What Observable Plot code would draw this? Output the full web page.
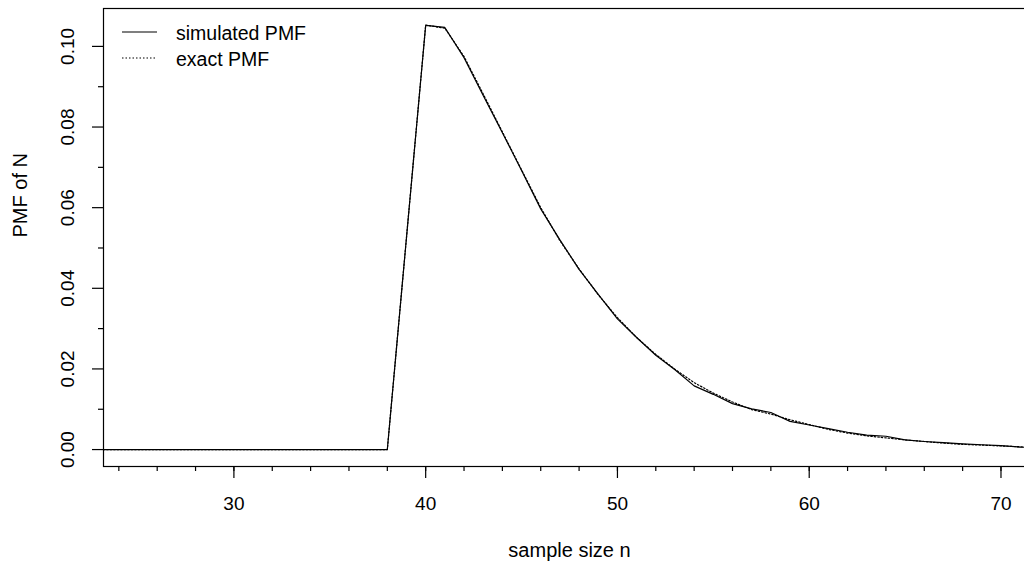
<!DOCTYPE html>
<html>
<head>
<meta charset="utf-8">
<script src="https://cdn.jsdelivr.net/npm/d3@7"></script>
<script src="https://cdn.jsdelivr.net/npm/@observablehq/plot@0.6"></script>
<style>
  html, body { margin: 0; padding: 0; background: #fff; }
  #chart { width: 1024px; height: 565px; overflow: hidden; }
</style>
</head>
<body>
<div id="chart"></div>
<script>
// sample size n
const nValues = [23,24,25,26,27,28,29,30,31,32,33,34,35,36,37,38,
  40,41,42,43,44,45,46,47,48,49,50,51,52,53,54,55,56,57,58,59,60,61,62,63,64,65,66,67,68,69,70,71,72];
// simulated PMF
const simulated = [0,0,0,0,0,0,0,0,0,0,0,0,0,0,0,0,
  0.1052,0.1047,0.0972,0.0878,0.0786,0.0692,0.0597,0.0520,0.0447,0.0385,0.0324,0.0278,0.0234,0.0198,0.0158,0.0137,
  0.0114,0.0101,0.0092,0.0070,0.0061,0.0052,0.0043,0.0036,0.0033,0.0024,0.0020,0.0017,0.0014,0.0012,0.0010,0.0006,0.0005];
// exact PMF
const exact = [0,0,0,0,0,0,0,0,0,0,0,0,0,0,0,0,
  0.1053,0.1045,0.0975,0.0882,0.0788,0.0694,0.0600,0.0518,0.0448,0.0384,0.0327,0.0278,0.0236,0.0199,0.0166,0.0140,
  0.0118,0.0099,0.0088,0.0074,0.0062,0.0050,0.0041,0.0034,0.0029,0.0024,0.0020,0.0016,0.0013,0.0011,0.0009,0.0007,0.0006];

const xMajorTicks = [30,40,50,60,70];
const xMinorTicks = d3.range(24, 72, 2);
const yMajorTicks = [0,0.02,0.04,0.06,0.08,0.10];
const yMinorTicks = [0.01,0.03,0.05,0.07,0.09];
const yTickLabels = ["0.00","0.02","0.04","0.06","0.08","0.10"];
const legendLabels = ["simulated PMF","exact PMF"];
const xTitle = "sample size n";
const yTitle = "PMF of N";

const simData = nValues.map((n, i) => ({n, p: simulated[i]}));
const exactData = nValues.map((n, i) => ({n, p: exact[i]}));
const yLabelData = yMajorTicks.map((v, i) => ({v, label: yTickLabels[i]}));

const FONT = "Liberation Sans, Arial, Helvetica, sans-serif";
const FS = 19;
const FT = 20;

const plot = Plot.plot({
  width: 1024,
  height: 565,
  marginLeft: 103,
  marginTop: 8,
  marginBottom: 99,
  marginRight: -11,
  style: {fontFamily: FONT, fontSize: FS + "px", color: "#000", background: "#fff", overflow: "hidden"},
  x: {domain: [23.2, 71.8]},
  y: {domain: [-0.0042, 0.1094]},
  marks: [
    Plot.line(exactData, {x: "n", y: "p", stroke: "#000", strokeWidth: 1.2, strokeDasharray: "1.5,2", clip: true}),
    Plot.line(simData, {x: "n", y: "p", stroke: "#000", strokeWidth: 1.2, clip: true}),
    Plot.frame({stroke: "#000", strokeWidth: 1.2}),
    Plot.axisX({ticks: xMajorTicks, tickSize: 12, stroke: "#000", strokeWidth: 1.2, tickFormat: () => "", label: null}),
    Plot.axisX({ticks: xMinorTicks, tickSize: 5, stroke: "#000", strokeWidth: 1.2, tickFormat: () => "", label: null}),
    Plot.axisY({ticks: yMajorTicks, tickSize: 11, stroke: "#000", strokeWidth: 1.2, tickFormat: () => "", label: null}),
    Plot.axisY({ticks: yMinorTicks, tickSize: 5, stroke: "#000", strokeWidth: 1.2, tickFormat: () => "", label: null}),
    Plot.text(xMajorTicks, {x: d => d, text: d => String(d), frameAnchor: "bottom", dy: 37, lineAnchor: "middle", fontSize: FS, fill: "#000"}),
    Plot.text(yLabelData, {y: "v", text: "label", frameAnchor: "left", dx: -35.5, rotate: -90, textAnchor: "middle", lineAnchor: "middle", fontSize: FS, fill: "#000"}),
    Plot.text([xTitle], {text: d => d, frameAnchor: "bottom", dy: 84, lineAnchor: "middle", fontSize: FT, fill: "#000"}),
    Plot.text([yTitle], {text: d => d, frameAnchor: "left", dx: -82.7, rotate: -90, lineAnchor: "middle", fontSize: FT, fill: "#000"})
  ]
});

document.getElementById("chart").appendChild(plot);

// legend (top-left inside plot)
const svg = d3.select(plot);
const lg = svg.append("g").attr("font-family", FONT).attr("font-size", 19.5).attr("text-anchor", "start");
const dashes = [null, "1.5,2"];
const ys = [32, 58];
legendLabels.forEach((lab, i) => {
  lg.append("line").attr("x1", 122).attr("x2", 157).attr("y1", ys[i]).attr("y2", ys[i])
    .attr("stroke", "#000").attr("stroke-width", 1.2).attr("stroke-dasharray", dashes[i]);
  lg.append("text").attr("x", 176).attr("y", ys[i] + 1.5).attr("dy", "0.32em")
    .attr("text-anchor", "start").attr("fill", "#000").text(lab);
});
</script>
</body>
</html>
